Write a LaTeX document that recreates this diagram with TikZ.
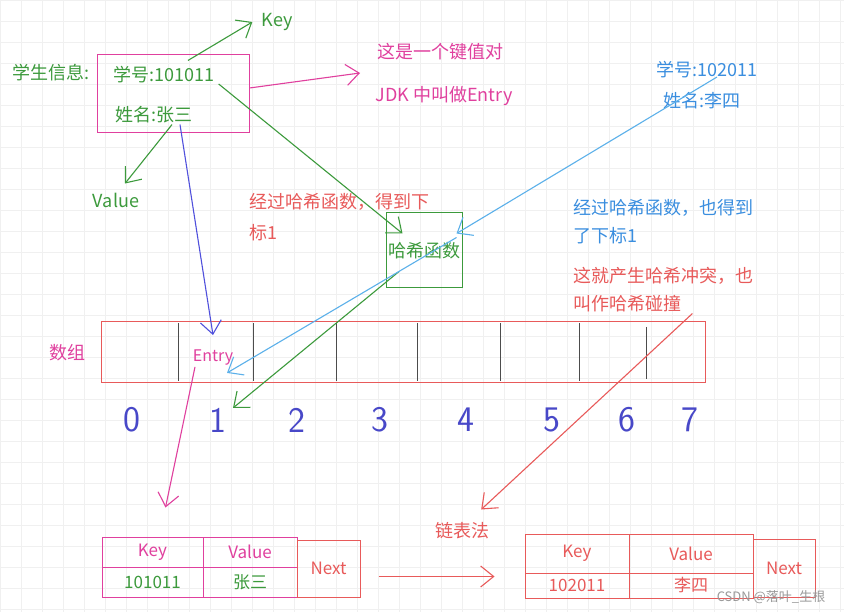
\documentclass[tikz,border=0pt]{standalone}
\usepackage{fontspec}
\setmainfont{Noto Sans CJK SC}
\usetikzlibrary{arrows.meta}
\definecolor{hgreen}{HTML}{3C9A3C}
\definecolor{hpink}{HTML}{E0409E}
\definecolor{hred}{HTML}{E85A5A}
\definecolor{hblue}{HTML}{3A8EDF}
\definecolor{hline}{HTML}{5BB0EA}
\definecolor{hviolet}{HTML}{5050DC}
\definecolor{hdigit}{HTML}{4848C8}

\begin{document}
\begin{tikzpicture}[x=1pt,y=-1pt,font=\fontsize{18}{22}\selectfont,
 lbl/.style={inner sep=1pt},
 cell/.style={draw,line width=1pt,inner sep=0pt,font=\fontsize{17}{20}\selectfont},
 tip/.style={-{Straight Barb[length=13pt,width=21pt]},line width=1.1pt},
 digit/.style={text=hdigit,font=\fontsize{36}{38}\sffamily},
 divider/.style={draw=black!70,line width=1pt},
 gridline/.style={draw=black!6,line width=0.5pt}]
\fill[white] (0,0) rectangle (844,612);
\useasboundingbox (0,0) rectangle (844,612);
\foreach \g in {0,21,...,840} \draw[gridline] (\g,0) -- (\g,612);
\foreach \g in {0,21,...,610} \draw[gridline] (0,\g) -- (844,\g);
% student record
\node[draw=hpink,line width=1pt,minimum width=152pt,minimum height=78pt] (stu) at (173,94) {};
\node[lbl,text=hgreen] (info) at (51,73) {学生信息:};
\node[lbl,text=hgreen] (sid) at (164,75) {学号:101011};
\node[lbl,text=hgreen] (sname) at (154,115) {姓名:张三};
\node[lbl,text=hgreen] (key) at (277,22) {Key};
\node[lbl,text=hgreen] (value) at (116,200) {Value};
\node[lbl,text=hpink] (pair) at (440,52) {这是一个键值对};
\node[lbl,text=hpink] (jdk) at (444,96) {JDK 中叫做Entry};
\coordinate (pairtip) at (360,73);
\node[lbl,text=hblue] (sid2) at (707,70) {学号:102011};
\node[lbl,text=hblue] (sname2) at (702,101) {姓名:李四};
% hash function
\node[draw=hgreen,line width=1pt,minimum width=76pt,minimum height=75pt,inner sep=0pt,text=hgreen] (hash) at (424,250.5) {哈希函数};
\node[lbl,text=hred,anchor=west] (hint1a) at (248,202) {经过哈希函数，得到下};
\node[lbl,text=hred,anchor=west] (hint1b) at (248,233) {标1};
\node[lbl,text=hblue,anchor=west] (hint2a) at (572,208) {经过哈希函数，也得到};
\node[lbl,text=hblue,anchor=west] (hint2b) at (572,236) {了下标1};
\node[lbl,text=hred,anchor=west] (clash1) at (572,276) {这就产生哈希冲突，也};
\node[lbl,text=hred,anchor=west] (clash2) at (572,304) {叫作哈希碰撞};
% array
\node[draw=hred,line width=1pt,minimum width=604pt,minimum height=61pt] (arr) at (403,352) {};
\foreach \x in {178,253,336,417,500,579} \draw[divider] (\x,323) -- (\x,381);
\draw[divider] (646,327) -- (646,379);
\node[lbl,text=hpink] (arrlbl) at (67,353) {数组};
\node[lbl,text=hpink,font=\fontsize{16}{19}\selectfont] (entry) at (213,358) {Entry};
\foreach \d/\x in {0/132,1/218,2/297,3/380,4/466,5/552,6/627,7/690}
  \node[digit] (d\d) at (\x,420) {\d};
% linked entries
\node[cell,draw=hpink,text=hpink,minimum width=101pt,minimum height=30pt] (k1) at (152.5,552) {Key};
\node[cell,draw=hpink,text=hpink,minimum width=94pt,minimum height=30pt] (v1) at (250,552) {Value};
\node[cell,draw=hpink,text=hgreen,minimum width=101pt,minimum height=30pt] (i1) at (152.5,582) {101011};
\node[cell,draw=hpink,text=hgreen,minimum width=94pt,minimum height=30pt] (z1) at (250,582) {张三};
\node[cell,draw=hred,text=hred,minimum width=63pt,minimum height=57pt] (n1) at (328.5,568.5) {Next};
\node[cell,draw=hred,text=hred,minimum width=104pt,minimum height=39pt] (k2) at (577,553.5) {Key};
\node[cell,draw=hred,text=hred,minimum width=124pt,minimum height=39pt] (v2) at (691,553.5) {Value};
\node[cell,draw=hred,text=hred,minimum width=104pt,minimum height=25pt] (i2) at (577,585.5) {102011};
\node[cell,draw=hred,text=hred,minimum width=124pt,minimum height=25pt] (z2) at (691,585.5) {李四};
\node[cell,draw=hred,text=hred,minimum width=62pt,minimum height=58pt] (n2) at (784,568) {Next};
\node[lbl,text=hred] (list) at (462,531) {链表法};
\node[lbl,text=black!40,font=\fontsize{13}{15}\selectfont] (mark) at (771,597) {CSDN @落叶\_生根};
% arrows
\draw[tip,hgreen] ([xshift=24pt,yshift=5pt]sid.north) -- ([xshift=-8pt]key.west);
\draw[tip,hgreen] ([xshift=18pt]sname.south) -- ([xshift=9pt,yshift=8pt]value.north);
\draw[tip,hpink] ([yshift=6pt]stu.east) -- (pairtip);
\draw[tip,hgreen] ([xshift=3pt,yshift=-9pt]sid.east) -- ([xshift=17pt,yshift=-21pt]hash.north west);
\draw[tip,hviolet] ([xshift=26pt]sname.south) -- ([yshift=14pt]entry.north);
\draw[tip,hgreen] ([xshift=-25pt,yshift=17pt]hash.south) -- ([xshift=3pt,yshift=12pt]d1.east);
\draw[tip,hline] ([xshift=10pt,yshift=-7pt]sid2.center) -- ([xshift=-6pt,yshift=17pt]hash.east);
\draw[tip,hline] ([xshift=-6pt,yshift=13pt]hash.east) -- ([xshift=14pt,yshift=-6pt]entry.south);
\draw[tip,hred] ([xshift=10pt]clash2.south east) -- ([xshift=-9pt,yshift=12pt]list.north east);
\draw[tip,hpink] ([xshift=-18pt]entry.south) -- ([xshift=13pt,yshift=29pt]k1.north);
\draw[tip,hred] ([xshift=18pt,yshift=-8pt]n1.east) -- ([xshift=-30pt,yshift=-3pt]k2.south west);
\end{tikzpicture}
\end{document}
